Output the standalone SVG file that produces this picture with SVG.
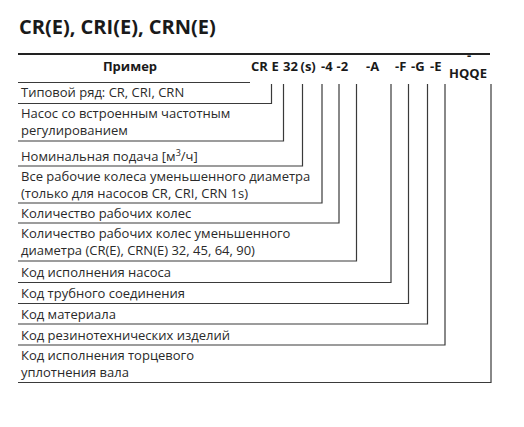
<svg xmlns="http://www.w3.org/2000/svg" width="524" height="427" viewBox="0 0 524 427">
<style>
.t{font-family:"Open Sans","Noto Sans",sans-serif;font-size:13px;fill:#2a2a2a}
.h{font-family:"Open Sans","Noto Sans",sans-serif;font-size:13px;font-weight:bold;fill:#1a1a1a}
.c{fill:none;stroke:#3a3a3a;stroke-width:1.2}
</style>
<rect width="524" height="427" fill="#fff"/>
<g id="title">
<text x="19" y="34" style="font-family:'Open Sans','Noto Sans',sans-serif;font-size:20px;font-weight:bold;fill:#1a1a1a">CR(E), CRI(E), CRN(E)</text>
<line x1="18" y1="54" x2="490" y2="54" stroke="#222" stroke-width="1.8"/>
</g>
<g id="header">
<text class="h" x="130" y="71" text-anchor="middle">Пример</text>
<text class="h" x="251" y="71">CR</text>
<text class="h" x="271.5" y="71">E</text>
<text class="h" x="283" y="71">32</text>
<text class="h" x="300.5" y="71">(s)</text>
<text class="h" x="321" y="71">-4</text>
<text class="h" x="336.5" y="71">-2</text>
<text class="h" x="366" y="71">-A</text>
<text class="h" x="395" y="71">-F</text>
<text class="h" x="411" y="71">-G</text>
<text class="h" x="430" y="71">-E</text>
<text class="h" x="469" y="60" text-anchor="middle" font-size="11">-</text>
<text class="h" x="468" y="77.5" text-anchor="middle">HQQE</text>
<line x1="18" y1="82.5" x2="250" y2="82.5" stroke="#3a3a3a" stroke-width="1.2"/>
</g>
<g id="connectors">
<path class="c" d="M18 103.5H271.5V84"/>
<path class="c" d="M18 141H283.5V84"/>
<path class="c" d="M18 166H302.5V84"/>
<path class="c" d="M18 203H322V84"/>
<path class="c" d="M18 223H339V84"/>
<path class="c" d="M18 261H356.5V84"/>
<path class="c" d="M18 282.5H391V84"/>
<path class="c" d="M18 303.5H408.5V84"/>
<path class="c" d="M18 324H427.5V84"/>
<path class="c" d="M18 345H445V84"/>
<path class="c" d="M18 382.5H491V84"/>
</g>
<g id="row1"><text class="t" x="21" y="97">Типовой ряд: CR, CRI, CRN</text></g>
<g id="row2"><text class="t" x="21" y="118">Насос со встроенным частотным</text><text class="t" x="21" y="135">регулированием</text></g>
<g id="row3"><text class="t" x="21" y="161">Номинальная подача [м<tspan dy="-5" font-size="9">3</tspan><tspan dy="5">/ч]</tspan></text></g>
<g id="row4"><text class="t" x="21" y="181">Все рабочие колеса уменьшенного диаметра</text><text class="t" x="21" y="198">(только для насосов CR, CRI, CRN 1s)</text></g>
<g id="row5"><text class="t" x="21" y="218">Количество рабочих колес</text></g>
<g id="row6"><text class="t" x="21" y="238">Количество рабочих колес уменьшенного</text><text class="t" x="21" y="255">диаметра (CR(E), CRN(E) 32, 45, 64, 90)</text></g>
<g id="row7"><text class="t" x="21" y="277">Код исполнения насоса</text></g>
<g id="row8"><text class="t" x="21" y="298">Код трубного соединения</text></g>
<g id="row9"><text class="t" x="21" y="319">Код материала</text></g>
<g id="row10"><text class="t" x="21" y="340">Код резинотехнических изделий</text></g>
<g id="row11"><text class="t" x="21" y="360">Код исполнения торцевого</text><text class="t" x="21" y="377">уплотнения вала</text></g>
</svg>
